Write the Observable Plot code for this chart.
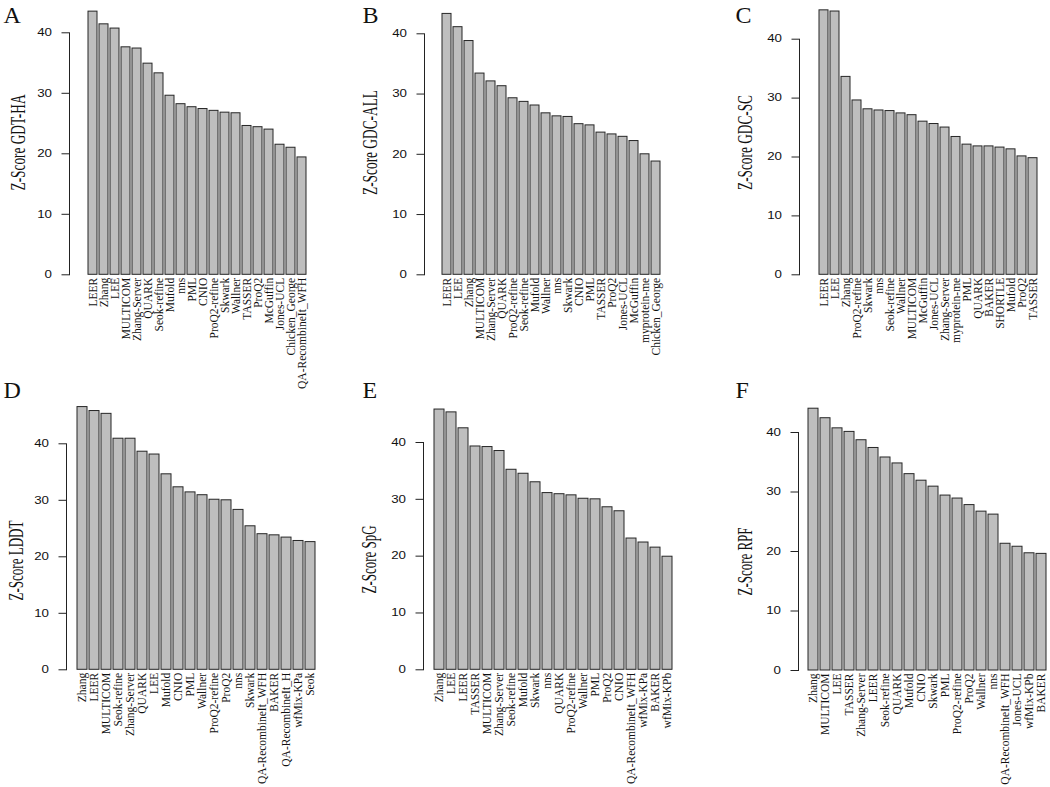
<!DOCTYPE html>
<html><head><meta charset="utf-8">
<script src="https://cdn.jsdelivr.net/npm/d3@7"></script>
<script src="https://cdn.jsdelivr.net/npm/@observablehq/plot@0.6"></script>
<style>
body{margin:0;background:#fff;}
#wrap{position:relative;width:1050px;height:787px;overflow:hidden;background:#fff;}
.panel{position:absolute;}
</style></head><body><div id="wrap"></div>
<script>
// ---- data ----
const namesA = ["LEER","Zhang","LEE","MULTICOM","Zhang-Server","QUARK","Seok-refine","Mufold","nns","PML","CNIO","ProQ2-refine","Skwark","Wallner","TASSER","ProQ2","McGuffin","Jones-UCL","Chicken_George","QA-RecombineIt_WFH"];
const valuesA = [43.5,41.4,40.7,37.6,37.4,34.9,33.3,29.6,28.2,27.7,27.4,27.1,26.8,26.7,24.6,24.4,24.0,21.5,21.0,19.4];

const namesB = ["LEER","LEE","Zhang","MULTICOM","Zhang-Server","QUARK","ProQ2-refine","Seok-refine","Mufold","Wallner","nns","Skwark","CNIO","PML","TASSER","ProQ2","Jones-UCL","McGuffin","myprotein-me","Chicken_George"];
const valuesB = [43.3,41.1,38.8,33.4,32.1,31.3,29.3,28.7,28.1,26.8,26.3,26.2,25.0,24.8,23.6,23.3,22.9,22.2,20.0,18.8];

const namesC = ["LEER","LEE","Zhang","ProQ2-refine","Skwark","nns","Seok-refine","Wallner","MULTICOM","McGuffin","Jones-UCL","Zhang-Server","myprotein-me","PML","QUARK","BAKER","SHORTLE","Mufold","ProQ2","TASSER"];
const valuesC = [44.9,44.7,33.6,29.6,28.1,27.9,27.8,27.4,27.1,26.0,25.6,25.0,23.4,22.1,21.8,21.8,21.6,21.3,20.1,19.8];

const namesD = ["Zhang","LEER","MULTICOM","Seok-refine","Zhang-Server","QUARK","LEE","Mufold","CNIO","PML","Wallner","ProQ2-refine","ProQ2","nns","Skwark","QA-RecombineIt_WFH","BAKER","QA-RecombineIt_H","wfMix-KPa","Seok"];
const valuesD = [46.5,45.8,45.3,40.9,40.9,38.6,38.1,34.6,32.3,31.4,30.9,30.1,30.0,28.3,25.4,24.0,23.8,23.4,22.8,22.6];

const namesE = ["Zhang","LEE","LEER","TASSER","MULTICOM","Zhang-Server","Seok-refine","Mufold","Skwark","nns","QUARK","ProQ2-refine","Wallner","PML","ProQ2","CNIO","QA-RecombineIt_WFH","wfMix-KPa","BAKER","wfMix-KPb"];
const valuesE = [45.8,45.3,42.5,39.3,39.2,38.5,35.2,34.5,33.0,31.1,30.9,30.7,30.1,30.0,28.6,27.9,23.1,22.4,21.5,19.9];

const namesF = ["Zhang","MULTICOM","LEE","TASSER","Zhang-Server","LEER","Seok-refine","QUARK","Mufold","CNIO","Skwark","PML","ProQ2-refine","ProQ2","Wallner","nns","QA-RecombineIt_WFH","Jones-UCL","wfMix-KPb","BAKER"];
const valuesF = [44.0,42.4,40.7,40.1,38.7,37.4,35.8,34.8,33.0,31.9,30.9,29.4,28.9,27.8,26.7,26.2,21.3,20.8,19.7,19.6];

const letters = ["A","B","C","D","E","F"];
const titles = ["Z-Score GDT-HA","Z-Score GDC-ALL","Z-Score GDC-SC","Z-Score LDDT","Z-Score SpG","Z-Score RPF"];
const yTicks = [0,10,20,30,40];

// ---- layout ----
const layout = [
  {names:namesA, values:valuesA, left:0,   top:0,   h:390, axisX:69, barL:78.3,  barR:315.7, y0:274.3, y40:32.3, labX:18,   labY:142, labLen:96,  letX:3,  letY:15},
  {names:namesB, values:valuesB, left:350, top:0,   h:390, axisX:74, barL:84,    barR:317.3, y0:274.3, y40:33.3, labX:20.5, labY:142, labLen:105, letX:12, letY:15},
  {names:namesC, values:valuesC, left:700, top:0,   h:390, axisX:99, barL:109,   barR:346.7, y0:274.3, y40:38.7, labX:45,   labY:142, labLen:95,  letX:35, letY:15},
  {names:namesD, values:valuesD, left:0,   top:378, h:409, axisX:66, barL:76,    barR:316,   y0:291.3, y40:65.3, labX:16,   labY:182, labLen:80,  letX:3,  letY:12},
  {names:namesE, values:valuesE, left:350, top:378, h:409, axisX:73, barL:83.3,  barR:321.7, y0:291.3, y40:64,   labX:19.5, labY:181, labLen:68,  letX:12, letY:12},
  {names:namesF, values:valuesF, left:700, top:378, h:409, axisX:98, barL:107.3, barR:347.3, y0:292,   y40:54,   labX:45,   labY:183, labLen:68,  letX:35, letY:12}
];

const serif = "'Liberation Serif','Times New Roman',serif";
const sans = "'Liberation Sans',Arial,Helvetica,sans-serif";
const wrap = document.getElementById("wrap");

layout.forEach((p, i) => {
  const data = p.names.map((n, j) => ({name: n, value: p.values[j]}));
  const svg = Plot.plot({
    width: 350,
    height: p.h,
    marginLeft: p.axisX,
    marginRight: 0,
    marginTop: p.y40,
    marginBottom: p.h - p.y0,
    style: {fontFamily: sans, fontSize: "10px", color: "#222", background: "transparent", overflow: "visible"},
    x: {domain: p.names, range: [p.barL, p.barR], paddingInner: 0.1667, paddingOuter: 0, axis: null},
    y: {domain: [0, 40], ticks: yTicks.length, tickSize: 7.5, tickPadding: 10, line: true, label: null, grid: false},
    marks: [
      Plot.barY(data, {x: "name", y: "value", fill: "#bebebe", stroke: "#262626", strokeWidth: 1}),
      Plot.text(data, {x: "name", y: d => 0, text: d => d.name, rotate: -90, textAnchor: "end", lineAnchor: "middle", dy: 3, fontFamily: serif, fontSize: 11.5, fill: "#111"}),
      Plot.text([titles[i]], {frameAnchor: "top-left", text: d => d, dx: p.labX - p.axisX, dy: p.labY - p.y40, rotate: -90, textAnchor: "middle", lineAnchor: "middle", fontFamily: serif, fontSize: 20, fill: "#111"}),
      Plot.text([letters[i]], {frameAnchor: "top-left", text: d => d, dx: p.letX - p.axisX, dy: p.letY - p.y40, textAnchor: "start", lineAnchor: "middle", fontFamily: serif, fontSize: 24, fill: "#111"})
    ]
  });
  // condensed look of the original typography
  d3.select(svg).selectAll("text").each(function() {
    const t = this.textContent;
    if (t === titles[i]) {
      d3.select(this).attr("textLength", p.labLen).attr("lengthAdjust", "spacingAndGlyphs");
    } else if (/^\d+$/.test(t)) {
      d3.select(this).attr("font-family", sans).style("font-family", sans).attr("font-size", 10).attr("fill", "#111")
        .attr("textLength", 7.4 * t.length).attr("lengthAdjust", "spacingAndGlyphs");
    }
  });
  const div = document.createElement("div");
  div.className = "panel";
  div.style.left = p.left + "px";
  div.style.top = p.top + "px";
  div.appendChild(svg);
  wrap.appendChild(div);
});
</script>
</body></html>
